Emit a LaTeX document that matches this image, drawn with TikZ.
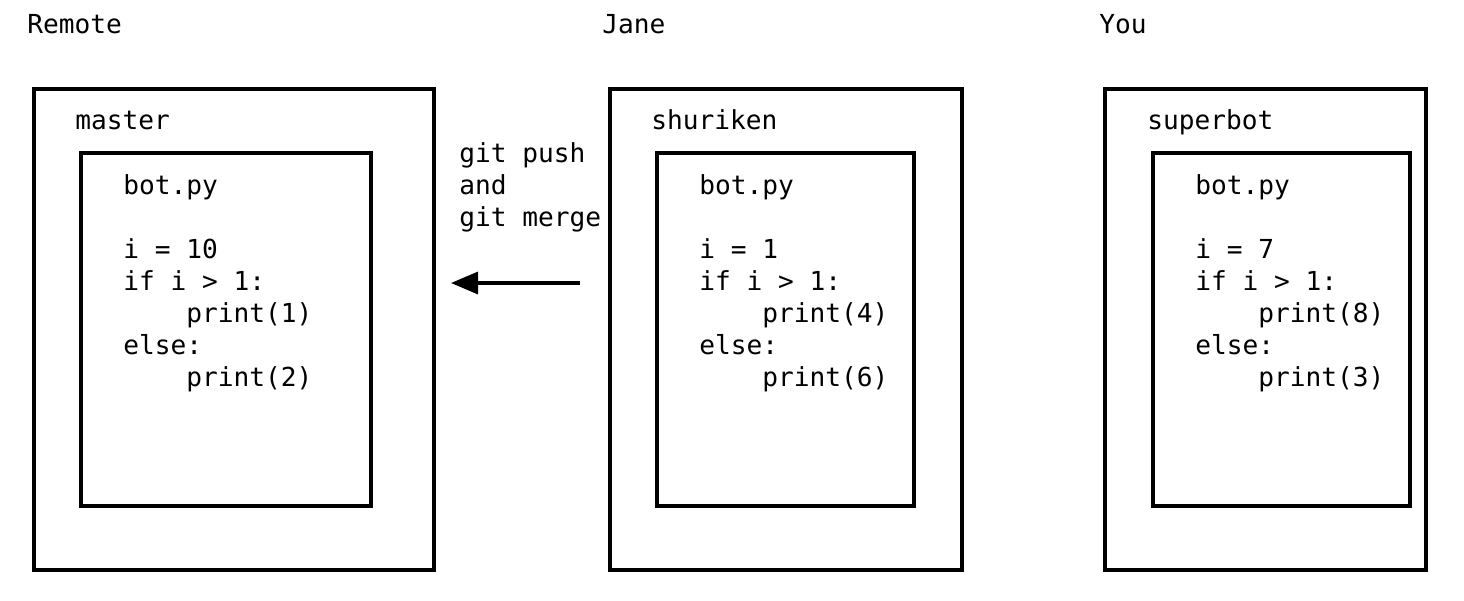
\documentclass[tikz,border=0pt]{standalone}
\usepackage{fontspec}
\setmonofont{DejaVu Sans Mono}
\usetikzlibrary{arrows.meta}
\newcommand{\ind}{\phantom{abcd}}
\begin{document}
\begin{tikzpicture}[x=0.02cm,y=-0.02cm,
  mono/.style={inner sep=0pt,anchor=base west,align=left,
    font=\ttfamily\fontsize{14.9pt}{18.2pt}\selectfont},
  boxline/.style={draw=black,line width=1.9pt}]
\useasboundingbox (0,0) rectangle (1464,600);
% Remote
\node [mono] (remote) at (27,33) {Remote};
\draw [boxline] (34,89) rectangle (434,570);
\node [mono] (master) at (75,129) {master};
\draw [boxline] (81,153) rectangle (371,506);
\node [mono] (botremote) at (123,386) {bot.py\\ \mbox{}\\ i = 10\\ if i > 1:\\ \ind print(1)\\ else:\\ \ind print(2)};
% Jane
\node [mono] (jane) at (602,33) {Jane};
\draw [boxline] (610,89) rectangle (962,570);
\node [mono] (shuriken) at (651,129) {shuriken};
\draw [boxline] (657,153) rectangle (914,506);
\node [mono] (botjane) at (699,386) {bot.py\\ \mbox{}\\ i = 1\\ if i > 1:\\ \ind print(4)\\ else:\\ \ind print(6)};
% You
\node [mono] (you) at (1099,33) {You};
\draw [boxline] (1105,89) rectangle (1426,570);
\node [mono] (superbot) at (1147,129) {superbot};
\draw [boxline] (1153,153) rectangle (1410,506);
\node [mono] (botyou) at (1195,386) {bot.py\\ \mbox{}\\ i = 7\\ if i > 1:\\ \ind print(8)\\ else:\\ \ind print(3)};
% push arrow
\node [mono] (push) at (459,226) {git push\\ and\\ git merge};
\coordinate (pushfrom) at (580,283);
\coordinate (pushto) at (451,283);
\draw [line width=1.9pt,-{Triangle[length=5.4mm,width=4.4mm]}] (pushfrom) -- (pushto);
\end{tikzpicture}
\end{document}
